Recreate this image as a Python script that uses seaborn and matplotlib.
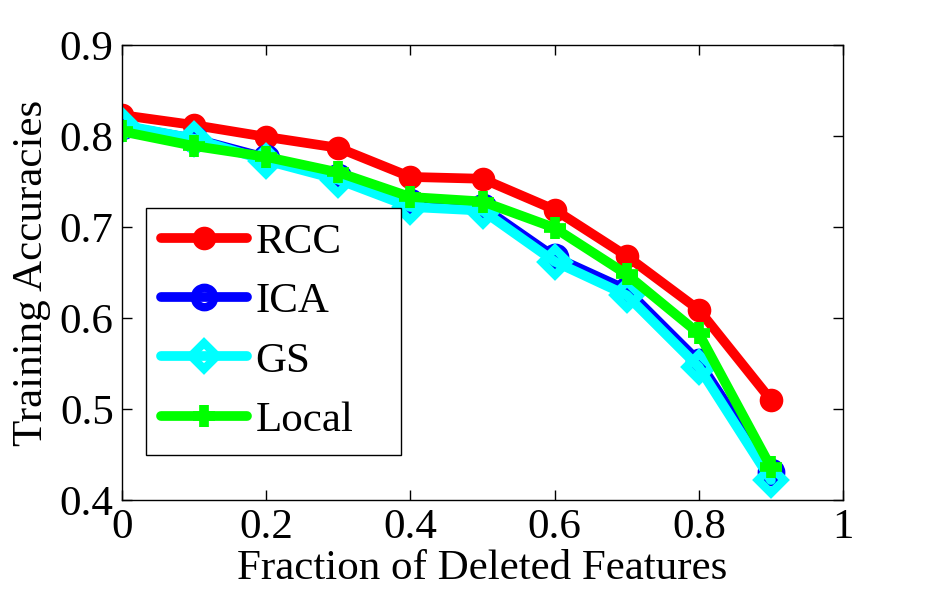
import numpy as np
import pandas as pd
import matplotlib
matplotlib.use('Agg')
import matplotlib.pyplot as plt
import seaborn as sns

# Data
fraction = [0.0, 0.1, 0.2, 0.3, 0.4, 0.5, 0.6, 0.7, 0.8, 0.9]
rcc = [0.823, 0.812, 0.799, 0.787, 0.755, 0.753, 0.719, 0.668, 0.609, 0.510]
ica = [0.811, 0.797, 0.776, 0.755, 0.727, 0.722, 0.667, 0.631, 0.552, 0.431]
gs = [0.812, 0.797, 0.773, 0.752, 0.722, 0.718, 0.662, 0.625, 0.546, 0.422]
local = [0.805, 0.789, 0.777, 0.760, 0.733, 0.728, 0.699, 0.648, 0.583, 0.436]

x_ticks = [0, 0.2, 0.4, 0.6, 0.8, 1]
y_ticks = [0.4, 0.5, 0.6, 0.7, 0.8, 0.9]

sns.set_style('ticks')
plt.rcParams['font.family'] = ['Liberation Serif', 'DejaVu Serif']
plt.rcParams['text.color'] = 'black'
plt.rcParams['axes.labelcolor'] = 'black'
plt.rcParams['xtick.color'] = 'black'
plt.rcParams['ytick.color'] = 'black'

fig = plt.figure(figsize=(9.34, 5.92), dpi=100)
ax = fig.add_axes([0.1306, 0.1554, 0.772, 0.7686])

# Series style: (label, values, colour, marker, filled)
series = [
    ('RCC', rcc, (1, 0, 0), 'o', True),
    ('ICA', ica, (0, 0, 1), 'o', False),
    ('GS', gs, (0, 1, 1), 'D', False),
    ('Local', local, (0, 1, 0), 'P', True),
]

for name, vals, col, mk, filled in series:
    df = pd.DataFrame({'x': fraction, 'y': vals})
    if mk == 'P':
        sns.lineplot(data=df, x='x', y='y', ax=ax, color=col, lw=7,
                     marker='+', markersize=16, markeredgewidth=7,
                     markeredgecolor=col, label=name)
    elif filled:
        sns.lineplot(data=df, x='x', y='y', ax=ax, color=col, lw=7,
                     marker=mk, markersize=15, markerfacecolor=col,
                     markeredgecolor=col, markeredgewidth=2, label=name)
    else:
        ms = 13 if mk == 'D' else 14
        sns.lineplot(data=df, x='x', y='y', ax=ax, color=col, lw=7,
                     marker=mk, markersize=ms, markerfacecolor='none',
                     markeredgecolor=col, markeredgewidth=6, label=name)

ax.set_xlim(0, 1)
ax.set_ylim(0.4, 0.9)
ax.set_xticks(x_ticks)
ax.set_xticklabels(['0', '0.2', '0.4', '0.6', '0.8', '1'])
ax.set_yticks(y_ticks)
ax.set_yticklabels(['0.4', '0.5', '0.6', '0.7', '0.8', '0.9'])
ax.tick_params(direction='in', length=7, width=1, labelsize=31,
               top=True, right=True, pad=6, colors='black')
for sp in ax.spines.values():
    sp.set_visible(True)
    sp.set_linewidth(1)
    sp.set_color('black')

ax.set_xlabel('Fraction of Deleted Features', fontsize=31, labelpad=2)
ax.set_ylabel('Training Accuracies', fontsize=31, labelpad=6)

leg = ax.legend(loc='lower left', bbox_to_anchor=(0.033, 0.099, 0.354, 0.5),
                mode='expand', borderaxespad=0, fontsize=31, frameon=True,
                fancybox=False, handlelength=2.0, handletextpad=0.2,
                labelspacing=0.47, borderpad=0.35, edgecolor='black',
                framealpha=1)
leg.get_frame().set_linewidth(1)

fig.savefig('out.png', dpi=100)
